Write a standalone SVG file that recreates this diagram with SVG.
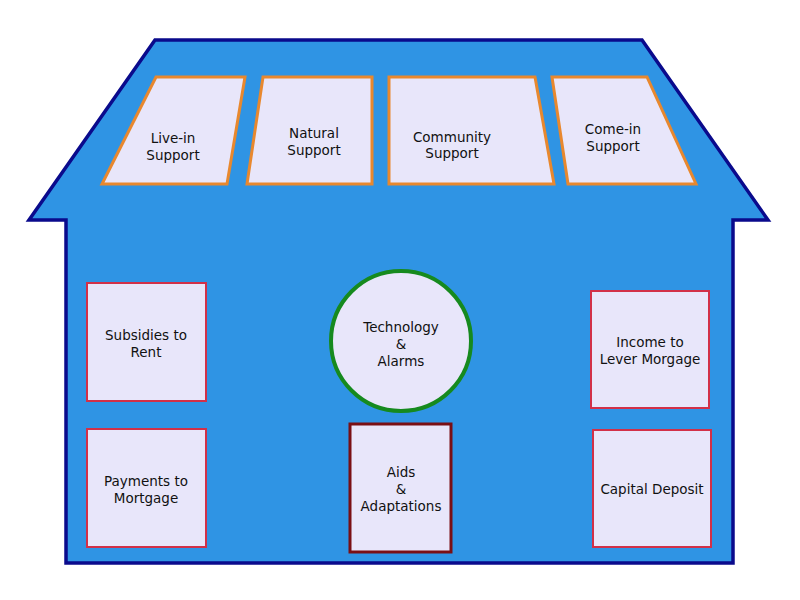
<svg xmlns="http://www.w3.org/2000/svg" width="800" height="600" viewBox="0 0 800 600">
<style>
text{font-family:"DejaVu Sans","Liberation Sans",sans-serif;font-size:13.5px;fill:#111;text-anchor:middle}
.win{fill:#e8e6fa;stroke:#e8882e;stroke-width:3}
.box{fill:#e8e6fa;stroke:#d23048;stroke-width:2}
</style>
<rect width="800" height="600" fill="#fff"/>
<g id="house">
<path d="M155,40 L642,40 L768,220 L733,220 L733,563 L66,563 L66,220 L29,220 Z" fill="#2f94e4" stroke="#0a0a8c" stroke-width="3.5" stroke-linejoin="miter"/>
</g>
<g id="live-in">
<polygon class="win" points="156,77 245,77 227,184 102,184"/>
<text x="173" y="143">Live-in</text><text x="173" y="160">Support</text>
</g>
<g id="natural">
<polygon class="win" points="263,77 372,77 372,184 247,184"/>
<text x="314" y="138">Natural</text><text x="314" y="155">Support</text>
</g>
<g id="community">
<polygon class="win" points="389,77 535,77 554,184 389,184"/>
<text x="452" y="142">Community</text><text x="452" y="158">Support</text>
</g>
<g id="come-in">
<polygon class="win" points="552,77 647,77 696,184 568,184"/>
<text x="613" y="134">Come-in</text><text x="613" y="151">Support</text>
</g>
<g id="subsidies">
<rect class="box" x="87" y="283" width="119" height="118"/>
<text x="146" y="340">Subsidies to</text><text x="146" y="357">Rent</text>
</g>
<g id="payments">
<rect class="box" x="87" y="429" width="119" height="118"/>
<text x="146" y="486">Payments to</text><text x="146" y="503">Mortgage</text>
</g>
<g id="technology">
<circle cx="401" cy="341" r="70" fill="#e8e6fa" stroke="#168a1e" stroke-width="4"/>
<text x="401" y="332">Technology</text><text x="401" y="349">&amp;</text><text x="401" y="366">Alarms</text>
</g>
<g id="aids">
<rect x="350" y="424" width="101" height="128" fill="#e8e6fa" stroke="#7a0f14" stroke-width="3"/>
<text x="401" y="477">Aids</text><text x="401" y="494">&amp;</text><text x="401" y="511">Adaptations</text>
</g>
<g id="income">
<rect class="box" x="591" y="291" width="118" height="117"/>
<text x="650" y="347">Income to</text><text x="650" y="364">Lever Morgage</text>
</g>
<g id="capital">
<rect class="box" x="593" y="430" width="118" height="117"/>
<text x="652" y="494">Capital Deposit</text>
</g>
<g id="connectors"/>
</svg>
